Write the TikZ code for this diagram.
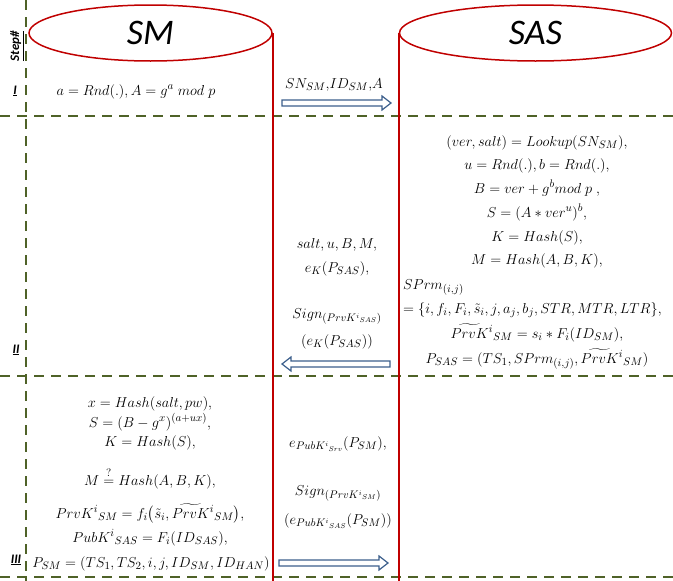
\documentclass[tikz,border=0pt]{standalone}
\usepackage{amsmath}
\usepackage{fontspec}
\newfontfamily\carl{Carlito}
\usetikzlibrary{shapes.geometric,calc}
\definecolor{lifered}{RGB}{192,0,0}
\definecolor{stepgreen}{RGB}{79,98,40}
\definecolor{msgblue}{RGB}{60,95,140}
% private key estimate with a wide tilde, script kept at normal height
\newcommand{\tprvk}{\smash[t]{\widetilde{PrvK}}}
\begin{document}
\begin{tikzpicture}[x=1pt,y=-1pt,
  eq/.style={font=\fontsize{15}{17}\selectfont, inner sep=0pt, anchor=base,
    text height=11pt, text depth=4pt},
  eqleft/.style={eq, anchor=base west},
  stepline/.style={draw=stepgreen, line width=1.8pt, dash pattern=on 10pt off 7pt},
  lifehead/.style={ellipse, draw=lifered, line width=1.5pt, inner sep=0pt,
    font=\carl\itshape\fontsize{36}{40}\selectfont},
  lifeline/.style={draw=lifered, line width=1.5pt},
  steplabel/.style={inner sep=0pt, font=\carl\bfseries\itshape\fontsize{13}{15}\selectfont},
  msgarrow/.style={draw=msgblue, line width=1.2pt, fill=white,
    to path={let \p1=(\tikztostart), \p2=(\tikztotarget),
      \p3=($(\tikztotarget)!9pt!(\tikztostart)$) in
      (\x1,\y1+3pt) -- (\x3,\y1+3pt) -- (\x3,\y1+7pt) -- (\p2)
      -- (\x3,\y1-7pt) -- (\x3,\y1-3pt) -- (\x1,\y1-3pt) -- cycle}}]
\useasboundingbox (0,0) rectangle (673,581);

% step separators
\draw[stepline] (26,0) -- (26,581);
\draw[stepline] (0,116) -- (673,116);
\draw[stepline] (0,376) -- (673,376);
\draw[stepline] (0,577) -- (673,577);

% step labels
\node[steplabel, rotate=90] (stephead) at (17,46) {\underline{Step\#}};
\node[steplabel] (step1) at (15,91) {\underline{I}};
\node[steplabel] (step2) at (16,350) {\underline{II}};
\node[steplabel] (step3) at (16,560) {\underline{III}};

% parties
\node[lifehead, minimum width=243pt, minimum height=56pt] (sm) at (150.5,33) {SM};
\node[lifehead, minimum width=272pt, minimum height=56pt] (sas) at (535.5,33) {SAS};
\coordinate (floor) at (0,581);
\draw[lifeline] (sm.east) -- (sm.east |- floor);
\draw[lifeline] (sas.west) -- (sas.west |- floor);

% step I
\node[eq] (smI) at (136,95) {$a = Rnd(.), A = g^{a}\; mod\; p$};
\node[eq] (msgI) at (334,88) {$SN_{SM}{,}ID_{SM}{,}A$};
\coordinate (m1s) at (282,103);
\coordinate (m1e) at (391,103);
\draw[msgarrow] (m1s) to (m1e);

% step II, server side
\node[eq] (sas1) at (537,146) {$(ver, salt) = Lookup(SN_{SM}),$};
\node[eq] (sas2) at (537,169) {$u = Rnd(.), b = Rnd(.),$};
\node[eq] (sas3) at (537,193) {$B = ver + g^{b} mod\; p\;,$};
\node[eq] (sas4) at (537,217) {$S = (A \ast ver^{u})^{b},$};
\node[eq] (sas5) at (537,241) {$K = Hash(S),$};
\node[eq] (sas6) at (537,264) {$M = Hash(A, B, K),$};
\node[eqleft] (sas7) at (403,289) {$SPrm_{(i,j)}$};
\node[eqleft] (sas8) at (403,313) {$= \{i, f_{i}, F_{i}, \tilde{s}_{i}, j, a_{j}, b_{j}, STR, MTR, LTR\},$};
\node[eq] (sas9) at (537,338) {$\tprvk^{i}{}_{SM} = s_{i} \ast F_{i}(ID_{SM}),$};
\node[eq] (sas10) at (537,363) {$P_{SAS} = (TS_{1}, SPrm_{(i,j)}, \tprvk^{i}{}_{SM})$};

% step II message
\node[eq] (msgII1) at (337,248) {$salt, u, B, M,$};
\node[eq] (msgII2) at (337,272) {$e_{K}(P_{SAS}),$};
\node[eq] (msgII3) at (337,318) {$Sign_{(PrvK^{i}{}_{SAS})}$};
\node[eq] (msgII4) at (337,345) {$(e_{K}(P_{SAS}))$};
\coordinate (m2s) at (390,364);
\coordinate (m2e) at (282,364);
\draw[msgarrow] (m2s) to (m2e);

% step III, meter side
\node[eq] (sm1) at (150,407) {$x = Hash(salt, pw),$};
\node[eq] (sm2) at (150,427) {$S = (B - g^{x})^{(a+ux)},$};
\node[eq] (sm3) at (150,446) {$K = Hash(S),$};
\node[eq] (sm4) at (150,485) {$M \stackrel{?}{=} Hash(A, B, K),$};
\node[eq] (sm5) at (150,518) {$PrvK^{i}{}_{SM} = f_{i}\bigl(\tilde{s}_{i}, \tprvk^{i}{}_{SM}\bigr),$};
\node[eq] (sm6) at (150,542) {$PubK^{i}{}_{SAS} = F_{i}(ID_{SAS}),$};
\node[eq] (sm7) at (151,567) {$P_{SM} = (TS_{1}, TS_{2}, i, j, ID_{SM}, ID_{HAN})$};

% step III message
\node[eq] (msgIII1) at (338,447) {$e_{PubK^{i}{}_{Srv}}(P_{SM}),$};
\node[eq] (msgIII2) at (338,495) {$Sign_{(PrvK^{i}{}_{SM})}$};
\node[eq] (msgIII3) at (338,524) {$(e_{PubK^{i}{}_{SAS}}(P_{SM}))$};
\coordinate (m3s) at (279,563);
\coordinate (m3e) at (388,563);
\draw[msgarrow] (m3s) to (m3e);
\end{tikzpicture}
\end{document}
